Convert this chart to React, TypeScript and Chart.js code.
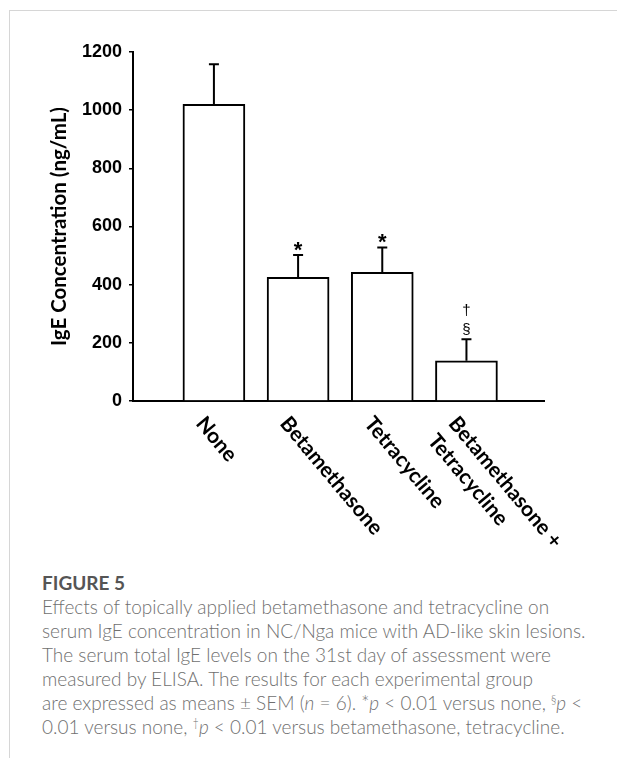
import React, { useEffect, useRef } from 'react';
import { Chart, registerables } from 'chart.js';

Chart.register(...registerables);

// ---- data ----
const categories: string[][] = [['None'], ['Betamethasone'], ['Tetracycline'], ['Betamethasone +', 'Tetracycline']];
const means = [1020, 425, 442, 138];
const sems = [138, 77, 86, 74];
const marks: string[][] = [[], ['*'], ['*'], ['§', '†']];
const yTicks = [0, 200, 400, 600, 800, 1000, 1200];
const yTitle = 'IgE Concentration (ng/mL)';

const overlay = {
  id: 'overlay',
  afterDatasetsDraw(chart: any) {
    const ctx = chart.ctx as CanvasRenderingContext2D;
    const meta = chart.getDatasetMeta(0);
    const y = chart.scales.y;
    const area = chart.chartArea;
    ctx.save();
    ctx.strokeStyle = '#000';
    ctx.fillStyle = '#000';
    ctx.lineWidth = 2;
    meta.data.forEach((bar: any, i: number) => {
      const x = bar.x;
      const top = y.getPixelForValue(means[i]);
      const eTop = y.getPixelForValue(means[i] + sems[i]);
      ctx.beginPath();
      ctx.moveTo(x, top);
      ctx.lineTo(x, eTop);
      ctx.moveTo(x - 5, eTop);
      ctx.lineTo(x + 5, eTop);
      ctx.stroke();
      let cur = eTop - 4;
      ctx.textAlign = 'center';
      ctx.textBaseline = 'alphabetic';
      marks[i].forEach((m) => {
        ctx.font = m === '*' ? 'bold 22px "Liberation Sans"' : '15px "Liberation Sans"';
        const mt = ctx.measureText(m);
        const base = cur - mt.actualBoundingBoxDescent;
        ctx.fillText(m, x, base);
        cur = base - mt.actualBoundingBoxAscent - 7;
      });
    });
    ctx.font = 'bold 21px Lato';
    ctx.textAlign = 'left';
    ctx.textBaseline = 'alphabetic';
    meta.data.forEach((bar: any, i: number) => {
      ctx.save();
      ctx.translate(bar.x - 19, area.bottom + 23);
      ctx.rotate((50 * Math.PI) / 180);
      categories[i].forEach((line, k) => ctx.fillText(line, 0, k * 27));
      ctx.restore();
    });
    ctx.restore();
  },
};

function BarChart() {
  const ref = useRef<HTMLCanvasElement>(null);
  useEffect(() => {
    const chart = new Chart(ref.current!, {
      type: 'bar',
      data: {
        datasets: [
          {
            data: means.map((v, i) => ({ x: i, y: v })),
            backgroundColor: '#fff',
            borderColor: '#000',
            borderWidth: 2,
            barThickness: 62,
          },
        ],
      },
      options: {
        responsive: false,
        animation: false,
        devicePixelRatio: 1,
        layout: { padding: { top: 52, right: 73, left: 0, bottom: 0 } },
        plugins: { legend: { display: false }, tooltip: { enabled: false } },
        scales: {
          x: {
            type: 'linear',
            min: -0.69,
            max: 3.65,
            ticks: { display: false },
            grid: { display: false },
            border: { display: true, color: '#000', width: 2 },
            afterFit: (s: any) => { s.height = 159; },
          },
          y: {
            min: 0,
            max: 1200,
            afterBuildTicks: (s: any) => { s.ticks = yTicks.map((v) => ({ value: v })); },
            ticks: {
              color: '#000',
              padding: 7,
              font: { family: '"Liberation Sans"', weight: 'bold', size: 18 },
              callback: (v: any) => String(v),
            },
            grid: { drawOnChartArea: false, drawTicks: true, tickLength: 4, color: '#000', lineWidth: 1.5 },
            border: { display: true, color: '#000', width: 2 },
            title: {
              display: true,
              text: yTitle,
              color: '#000',
              font: { family: 'Lato', weight: 'bold', size: 20.5 },
              padding: { top: 46.7, bottom: 0 },
            },
            afterFit: (s: any) => { s.width = 133; },
          },
        },
      } as any,
      plugins: [overlay],
    });
    return () => chart.destroy();
  }, []);
  return <canvas ref={ref} width={617} height={560} style={{ position: 'absolute', left: 0, top: 0, display: 'block' }} />;
}

export default function App() {
  const sup: React.CSSProperties = { fontSize: 11, lineHeight: 0, verticalAlign: 'super' };
  return (
    <div style={{ position: 'absolute', left: 0, top: 0, width: 617, height: 758, background: '#fff', overflow: 'hidden' }}>
      <div style={{ position: 'absolute', left: 9, top: 10, width: 608, height: 1, background: '#d6d6d6' }} />
      <div style={{ position: 'absolute', left: 9, top: 10, width: 1, height: 748, background: '#d6d6d6' }} />
      <BarChart />
      <div
        style={{
          position: 'absolute',
          left: 42,
          top: 571,
          fontFamily: 'Lato',
          fontSize: 19,
          lineHeight: '24px',
          color: '#707070',
          whiteSpace: 'nowrap',
          fontWeight: 300,
        }}
      >
        <div style={{ fontWeight: 700, fontSize: 19, color: '#555' }}>FIGURE 5</div>
        <div>Effects of topically applied betamethasone and tetracycline on</div>
        <div>serum IgE concentration in NC/Nga mice with AD-like skin lesions.</div>
        <div>The serum total IgE levels on the 31st day of assessment were</div>
        <div>measured by ELISA. The results for each experimental group</div>
        <div>
          are expressed as means ± SEM (<i>n</i> = 6). *<i>p</i> &lt; 0.01 versus none, <sup style={sup}>§</sup>
          <i>p</i> &lt;
        </div>
        <div>
          0.01 versus none, <sup style={sup}>†</sup>
          <i>p</i> &lt; 0.01 versus betamethasone, tetracycline.
        </div>
      </div>
    </div>
  );
}
